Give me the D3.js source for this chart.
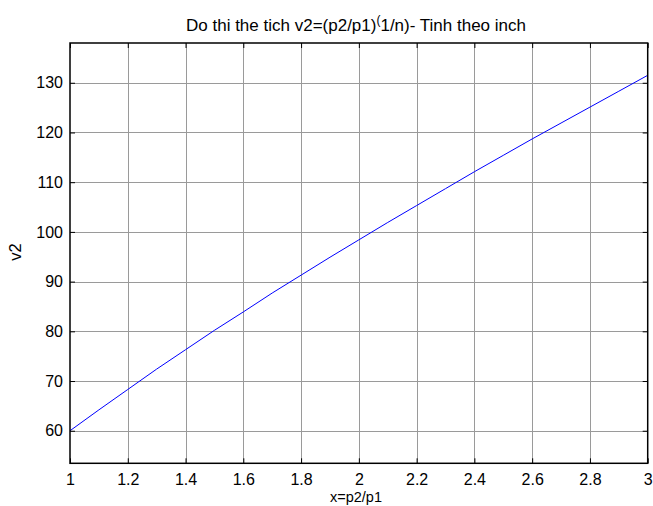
<!DOCTYPE html>
<html>
<head>
<meta charset="utf-8">
<script src="https://cdn.jsdelivr.net/npm/d3@7"></script>
<style>
  html, body { margin: 0; padding: 0; background: #fff; }
  svg { display: block; font-family: "Liberation Sans", Arial, sans-serif; }
</style>
</head>
<body>
<div id="chart"></div>
<script>
// values
var xValues = [1.0, 1.1, 1.2, 1.3, 1.4, 1.5, 1.6, 1.7, 1.8, 1.9, 2.0,
               2.1, 2.2, 2.3, 2.4, 2.5, 2.6, 2.7, 2.8, 2.9, 3.0];
var v2Values = [60.0, 64.2, 68.3, 72.4, 76.3, 80.2, 83.9, 87.7, 91.3, 94.9, 98.4,
                101.9, 105.3, 108.7, 112.1, 115.4, 118.7, 121.9, 125.1, 128.3, 131.5];
var xTicks = [1, 1.2, 1.4, 1.6, 1.8, 2, 2.2, 2.4, 2.6, 2.8, 3];
var yTicks = [60, 70, 80, 90, 100, 110, 120, 130];

var WIDTH = 653;
var HEIGHT = 506;
var margin = { top: 43, left: 70 };
var innerW = 647.7 - margin.left;
var innerH = 463.3 - margin.top;

var svg = d3.select('#chart').append('svg')
  .attr('width', WIDTH)
  .attr('height', HEIGHT);

var x = d3.scaleLinear().domain([1, 3]).range([0, innerW]);
var y = d3.scaleLinear().domain([53.45, 138.0]).range([innerH, 0]);

var g = svg.append('g')
  .attr('transform', 'translate(' + margin.left + ',' + margin.top + ')');

// grid
g.append('g').selectAll('line')
  .data(xTicks.slice(1, -1))
  .enter().append('line')
    .attr('x1', function (d) { return Math.round(x(d)) + 0.5; })
    .attr('x2', function (d) { return Math.round(x(d)) + 0.5; })
    .attr('y1', 0)
    .attr('y2', innerH)
    .attr('stroke', '#9a9a9a');

g.append('g').selectAll('line')
  .data(yTicks)
  .enter().append('line')
    .attr('x1', 0)
    .attr('x2', innerW)
    .attr('y1', function (d) { return Math.round(y(d)) + 0.5; })
    .attr('y2', function (d) { return Math.round(y(d)) + 0.5; })
    .attr('stroke', '#9a9a9a');

// curve
var line = d3.line()
  .x(function (d, i) { return x(xValues[i]); })
  .y(function (d) { return y(d); });

g.append('path')
  .datum(v2Values)
  .attr('d', line)
  .attr('fill', 'none')
  .attr('stroke', '#0000ff')
  .attr('stroke-width', 1);

// axes with inward ticks on all sides
function styleAxis (sel) {
  sel.select('.domain').remove();
  sel.selectAll('line').attr('stroke', '#000');
  sel.selectAll('text').attr('fill', '#000').style('font-size', '16px');
}

var fmt = function (d) { return String(d); };

g.append('g')
  .attr('transform', 'translate(0,' + innerH + ')')
  .call(d3.axisBottom(x).tickValues(xTicks).tickFormat(fmt).tickSizeInner(-5).tickPadding(10))
  .call(styleAxis);

g.append('g')
  .call(d3.axisTop(x).tickValues(xTicks).tickFormat('').tickSizeInner(-5))
  .call(styleAxis);

g.append('g')
  .call(d3.axisLeft(y).tickValues(yTicks).tickFormat(fmt).tickSizeInner(-5).tickPadding(7))
  .call(styleAxis);

g.append('g')
  .attr('transform', 'translate(' + innerW + ',0)')
  .call(d3.axisRight(y).tickValues(yTicks).tickFormat('').tickSizeInner(-5))
  .call(styleAxis);

// box
g.append('rect')
  .attr('x', 0).attr('y', 0)
  .attr('width', innerW).attr('height', innerH)
  .attr('fill', 'none')
  .attr('stroke', '#000')
  .attr('stroke-width', 1.5);

// labels
var title = svg.append('text')
  .attr('x', 356)
  .attr('y', 30.5)
  .attr('text-anchor', 'middle')
  .style('font-size', '17px');
title.append('tspan').text('Do thi the tich v2=(p2/p1)');
title.append('tspan').attr('dy', -7).style('font-size', '12px').text('(');
title.append('tspan').attr('dy', 7).text('1/n)- Tinh theo inch');

svg.append('text')
  .attr('x', 356)
  .attr('y', 502)
  .attr('text-anchor', 'middle')
  .style('font-size', '14.5px')
  .text('x=p2/p1');

svg.append('text')
  .attr('transform', 'translate(21,252) rotate(-90)')
  .attr('text-anchor', 'middle')
  .style('font-size', '16.5px')
  .text('v2');
</script>
</body>
</html>
